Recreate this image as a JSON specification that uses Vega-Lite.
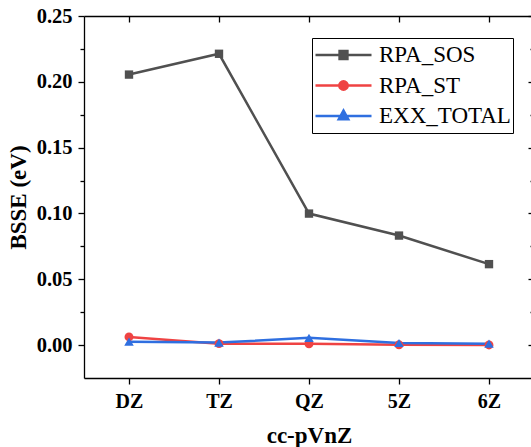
{
  "$schema": "https://vega.github.io/schema/vega-lite/v6.json",
  "width": 450,
  "height": 362,
  "autosize": "none",
  "padding": {"left": 84, "top": 16, "right": 0, "bottom": 69},
  "background": "white",
  "config": {
    "view": {"stroke": null},
    "font": "Liberation Serif",
    "axis": {
      "labelFont": "Liberation Serif",
      "titleFont": "Liberation Serif",
      "labelFontWeight": "bold",
      "titleFontWeight": "bold",
      "labelColor": "black",
      "titleColor": "black",
      "domainColor": "black",
      "tickColor": "black",
      "domainWidth": 1.3,
      "tickWidth": 1.3,
      "grid": false
    }
  },
  "data": {
    "values": [
      {"basis": "DZ", "series": "RPA_SOS", "value": 0.2055},
      {"basis": "TZ", "series": "RPA_SOS", "value": 0.2213},
      {"basis": "QZ", "series": "RPA_SOS", "value": 0.0999},
      {"basis": "5Z", "series": "RPA_SOS", "value": 0.0832},
      {"basis": "6Z", "series": "RPA_SOS", "value": 0.0615},
      {"basis": "DZ", "series": "RPA_ST", "value": 0.0062},
      {"basis": "TZ", "series": "RPA_ST", "value": 0.0011},
      {"basis": "QZ", "series": "RPA_ST", "value": 0.001},
      {"basis": "5Z", "series": "RPA_ST", "value": 0.0002},
      {"basis": "6Z", "series": "RPA_ST", "value": 0.0001},
      {"basis": "DZ", "series": "EXX_TOTAL", "value": 0.0026},
      {"basis": "TZ", "series": "EXX_TOTAL", "value": 0.0019},
      {"basis": "QZ", "series": "EXX_TOTAL", "value": 0.0055},
      {"basis": "5Z", "series": "EXX_TOTAL", "value": 0.0016},
      {"basis": "6Z", "series": "EXX_TOTAL", "value": 0.0011}
    ]
  },
  "encoding": {
    "x": {
      "field": "basis", "type": "ordinal",
      "sort": ["DZ", "TZ", "QZ", "5Z", "6Z"],
      "scale": {"type": "point", "padding": 0.5},
      "axis": null
    },
    "y": {
      "field": "value", "type": "quantitative",
      "scale": {"domain": [-0.025, 0.25], "nice": false, "zero": false},
      "axis": null
    },
    "color": {
      "field": "series", "type": "nominal",
      "sort": ["RPA_SOS", "RPA_ST", "EXX_TOTAL"],
      "scale": {"domain": ["RPA_SOS", "RPA_ST", "EXX_TOTAL"], "range": ["#505050", "#ef4343", "#2f6fe0"]}
    }
  },
  "layer": [
    {
      "mark": {"type": "line", "strokeWidth": 2.5},
      "encoding": {
        "x": {
          "field": "basis", "type": "ordinal",
          "sort": ["DZ", "TZ", "QZ", "5Z", "6Z"],
          "scale": {"type": "point", "padding": 0.5},
          "axis": {
            "orient": "bottom", "title": "cc-pVnZ", "labelAngle": 0,
            "labelFontSize": 20, "titleFontSize": 23,
            "tickSize": 6, "labelPadding": 7, "titlePadding": 13
          }
        },
        "y": {
          "field": "value", "type": "quantitative",
          "scale": {"domain": [-0.025, 0.25], "nice": false, "zero": false},
          "axis": {
            "orient": "left", "title": "BSSE (eV)",
            "values": [0, 0.025, 0.05, 0.075, 0.1, 0.125, 0.15, 0.175, 0.2, 0.225, 0.25],
            "labelExpr": "abs(datum.value*20 - round(datum.value*20)) < 0.01 ? format(datum.value, '.2f') : ''",
            "tickSize": {"condition": {"test": "abs(datum.value*20 - round(datum.value*20)) > 0.01", "value": 4}, "value": 6},
            "labelFontSize": 20.5, "titleFontSize": 23,
            "labelPadding": 6, "titlePadding": 6
          }
        },
        "color": {
          "field": "series", "type": "nominal",
          "sort": ["RPA_SOS", "RPA_ST", "EXX_TOTAL"],
          "scale": {"domain": ["RPA_SOS", "RPA_ST", "EXX_TOTAL"], "range": ["#505050", "#ef4343", "#2f6fe0"]},
          "legend": {
            "title": null,
            "orient": "none",
            "legendX": 228,
            "legendY": 22,
            "padding": 2,
            "strokeColor": "black",
            "fillColor": "white",
            "labelFont": "Liberation Serif",
            "labelFontSize": 23,
            "labelColor": "black",
            "labelOffset": 6,
            "symbolSize": 3136,
            "symbolOffset": 0,
            "clipHeight": 30,
            "rowPadding": 0.5,
            "symbolStrokeWidth": 2.5,
            "symbolOpacity": 1,
            "symbolType": {"expr": "datum.value == 'RPA_SOS' ? 'M-1,0H1M-0.14,-0.14H0.14V0.14H-0.14Z' : datum.value == 'RPA_ST' ? 'M-1,0H1M-0.15,0A0.15,0.15 0 1,0 0.15,0A0.15,0.15 0 1,0 -0.15,0Z' : 'M-1,0H1M0,-0.19L0.17,0.12H-0.17Z'"}
          }
        },
        "detail": {"field": "series"}
      }
    },
    {
      "transform": [{"filter": "datum.series == 'RPA_SOS'"}],
      "mark": {"type": "point", "shape": "square", "filled": true, "opacity": 1, "size": 70},
      "encoding": {
        "x": {
          "field": "basis", "type": "ordinal",
          "sort": ["DZ", "TZ", "QZ", "5Z", "6Z"],
          "scale": {"type": "point", "padding": 0.5},
          "axis": {"orient": "top", "title": null, "labels": false, "tickSize": -6}
        },
        "y": {
          "field": "value", "type": "quantitative",
          "scale": {"domain": [-0.025, 0.25], "nice": false, "zero": false},
          "axis": {
            "orient": "right", "title": null, "labels": false,
            "values": [0, 0.025, 0.05, 0.075, 0.1, 0.125, 0.15, 0.175, 0.2, 0.225, 0.25],
            "tickSize": {"condition": {"test": "abs(datum.value*20 - round(datum.value*20)) > 0.01", "value": -4}, "value": -6}
          }
        }
      }
    },
    {
      "transform": [{"filter": "datum.series == 'RPA_ST'"}],
      "mark": {"type": "point", "shape": "circle", "filled": true, "opacity": 1, "size": 80}
    },
    {
      "transform": [{"filter": "datum.series == 'EXX_TOTAL'"}],
      "mark": {"type": "point", "shape": "triangle-up", "filled": true, "opacity": 1, "size": 90}
    }
  ],
  "resolve": {"axis": {"x": "independent", "y": "independent"}}
}
